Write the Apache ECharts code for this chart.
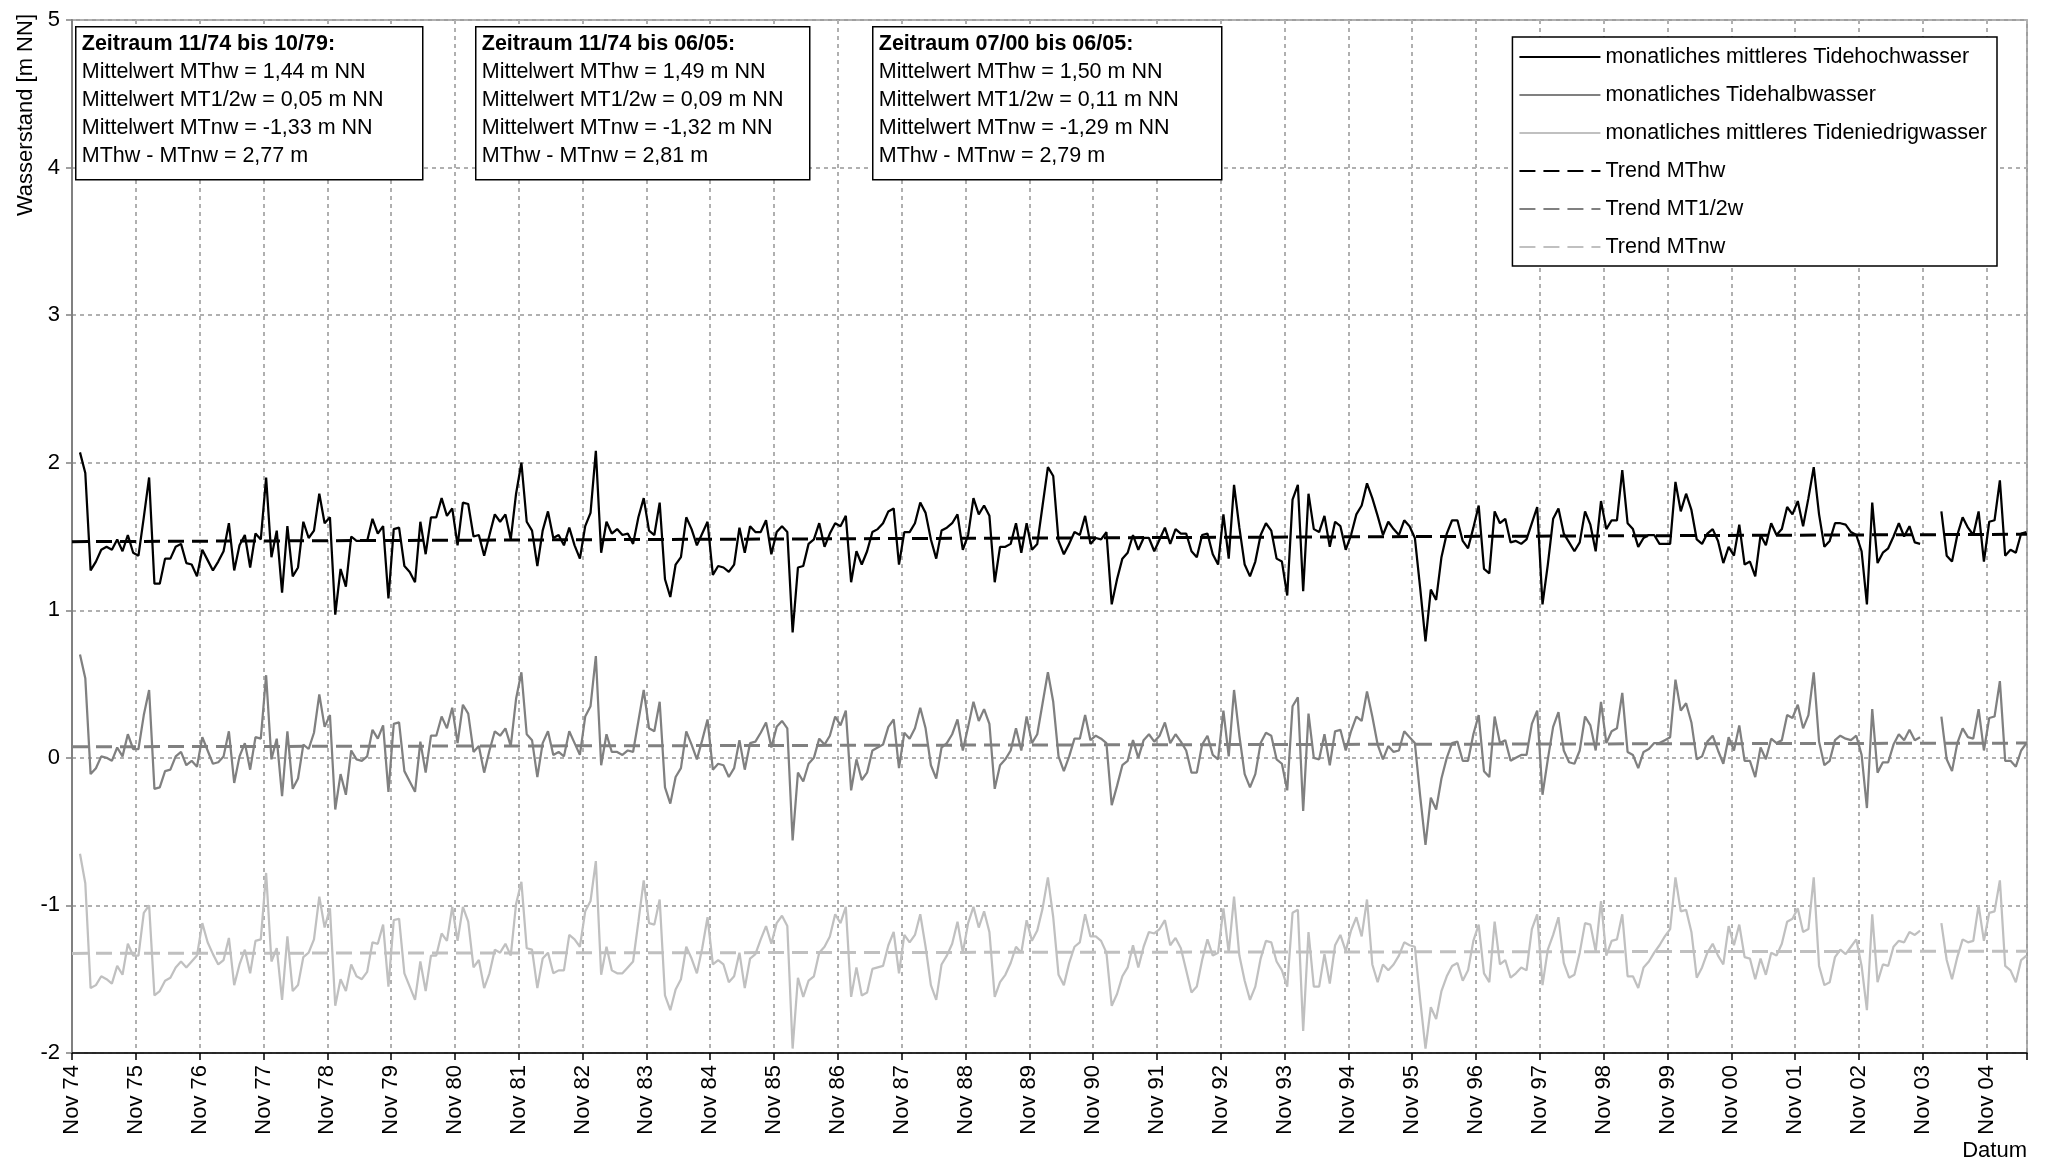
<!DOCTYPE html>
<html>
<head>
<meta charset="utf-8">
<title>Tidewasserstände</title>
<script src="https://cdn.jsdelivr.net/npm/echarts/dist/echarts.min.js"></script>
<style>
  html, body { margin: 0; padding: 0; background: #fff; }
  #chart { width: 2056px; height: 1165px; }
</style>
</head>
<body>
<div id="chart"></div>
<script>
// Monatswerte ab 12/74 bis 06/05 (null = keine Daten)
var mthw = [
  2.07,1.93,1.27,1.33,1.41,1.43,1.41,1.48,1.40,1.51,1.39,1.37,
  1.63,1.90,1.18,1.18,1.35,1.35,1.43,1.45,1.32,1.31,1.23,1.41,
  1.34,1.27,1.33,1.40,1.59,1.27,1.44,1.51,1.29,1.52,1.48,1.90,
  1.36,1.54,1.12,1.57,1.23,1.29,1.60,1.49,1.54,1.79,1.59,1.63,
  0.97,1.28,1.16,1.50,1.47,1.47,1.47,1.62,1.52,1.57,1.08,1.55,
  1.56,1.30,1.26,1.19,1.60,1.38,1.63,1.63,1.76,1.64,1.69,1.44,
  1.73,1.72,1.50,1.51,1.37,1.51,1.65,1.60,1.65,1.48,1.79,2.00,
  1.60,1.54,1.30,1.54,1.67,1.49,1.51,1.44,1.56,1.44,1.35,1.57,
  1.66,2.08,1.39,1.60,1.52,1.55,1.51,1.52,1.45,1.63,1.76,1.54,
  1.51,1.73,1.21,1.09,1.31,1.36,1.63,1.55,1.44,1.52,1.60,1.24,
  1.30,1.29,1.26,1.31,1.56,1.39,1.57,1.53,1.53,1.61,1.38,1.53,
  1.57,1.53,0.85,1.29,1.30,1.45,1.48,1.59,1.43,1.52,1.59,1.57,
  1.64,1.19,1.40,1.31,1.40,1.53,1.55,1.59,1.67,1.69,1.31,1.53,
  1.53,1.59,1.73,1.66,1.48,1.35,1.54,1.56,1.59,1.65,1.41,1.51,
  1.76,1.65,1.71,1.64,1.19,1.43,1.43,1.45,1.59,1.39,1.59,1.41,
  1.45,1.71,1.97,1.91,1.47,1.38,1.45,1.53,1.51,1.64,1.45,1.49,
  1.48,1.53,1.04,1.21,1.35,1.39,1.51,1.41,1.49,1.49,1.40,1.48,
  1.56,1.45,1.55,1.52,1.52,1.40,1.36,1.51,1.52,1.38,1.31,1.65,
  1.35,1.85,1.56,1.31,1.23,1.33,1.51,1.59,1.54,1.35,1.33,1.10,
  1.75,1.85,1.13,1.79,1.55,1.53,1.64,1.43,1.60,1.57,1.41,1.51,
  1.65,1.71,1.86,1.76,1.64,1.51,1.60,1.55,1.51,1.61,1.57,1.49,
  1.15,0.79,1.14,1.07,1.36,1.52,1.61,1.61,1.47,1.42,1.56,1.71,
  1.28,1.25,1.67,1.59,1.62,1.46,1.47,1.45,1.48,1.59,1.70,1.04,
  1.31,1.62,1.69,1.52,1.46,1.40,1.46,1.67,1.58,1.40,1.74,1.55,
  1.61,1.61,1.95,1.59,1.55,1.43,1.49,1.51,1.51,1.45,1.45,1.45,
  1.87,1.67,1.79,1.68,1.48,1.45,1.52,1.55,1.47,1.32,1.43,1.37,
  1.58,1.31,1.33,1.23,1.51,1.44,1.59,1.51,1.55,1.70,1.65,1.74,
  1.57,1.76,1.97,1.65,1.43,1.47,1.59,1.59,1.58,1.53,1.51,1.40,
  1.04,1.73,1.32,1.39,1.42,1.50,1.59,1.50,1.57,1.46,1.45,null,
  null,null,1.67,1.37,1.33,1.51,1.63,1.56,1.51,1.67,1.33,1.60,
  1.61,1.88,1.37,1.41,1.39,1.52,1.53
];
var mt12w = [
  0.70,0.54,-0.11,-0.07,0.01,0.00,-0.02,0.07,0.01,0.16,0.06,0.06,
  0.29,0.46,-0.21,-0.20,-0.09,-0.08,0.01,0.04,-0.05,-0.02,-0.06,0.14,
  0.05,-0.04,-0.03,0.01,0.18,-0.17,0.01,0.10,-0.08,0.14,0.13,0.56,
  -0.01,0.13,-0.26,0.18,-0.21,-0.14,0.09,0.06,0.17,0.43,0.21,0.29,
  -0.35,-0.11,-0.25,0.05,-0.01,-0.02,0.01,0.19,0.13,0.22,-0.23,0.23,
  0.24,-0.09,-0.16,-0.23,0.11,-0.10,0.15,0.15,0.28,0.20,0.34,0.10,
  0.36,0.30,0.04,0.08,-0.10,0.05,0.18,0.15,0.20,0.08,0.40,0.58,
  0.16,0.12,-0.13,0.10,0.18,0.02,0.04,0.01,0.18,0.10,0.02,0.28,
  0.35,0.69,-0.05,0.16,0.04,0.04,0.02,0.05,0.04,0.25,0.46,0.20,
  0.18,0.38,-0.20,-0.31,-0.13,-0.07,0.18,0.09,-0.01,0.12,0.26,-0.08,
  -0.04,-0.05,-0.13,-0.07,0.12,-0.08,0.10,0.11,0.17,0.24,0.07,0.21,
  0.25,0.20,-0.56,-0.10,-0.16,-0.04,0.00,0.13,0.09,0.15,0.28,0.22,
  0.32,-0.22,-0.01,-0.15,-0.10,0.05,0.07,0.09,0.21,0.26,-0.07,0.17,
  0.13,0.20,0.34,0.20,-0.05,-0.14,0.07,0.10,0.16,0.26,0.05,0.21,
  0.38,0.25,0.33,0.23,-0.21,-0.05,-0.01,0.05,0.20,0.05,0.28,0.10,
  0.16,0.37,0.58,0.38,0.01,-0.09,0.01,0.13,0.13,0.29,0.12,0.15,
  0.13,0.10,-0.32,-0.19,-0.05,-0.02,0.12,0.00,0.12,0.16,0.11,0.15,
  0.24,0.10,0.16,0.11,0.05,-0.10,-0.10,0.09,0.15,0.02,-0.01,0.32,
  0.01,0.46,0.15,-0.11,-0.20,-0.11,0.10,0.17,0.15,-0.01,-0.04,-0.22,
  0.35,0.41,-0.36,0.30,0.00,-0.01,0.16,-0.05,0.18,0.19,0.05,0.18,
  0.28,0.25,0.45,0.28,0.09,-0.01,0.08,0.04,0.05,0.18,0.14,0.10,
  -0.26,-0.59,-0.27,-0.35,-0.14,0.00,0.10,0.11,-0.02,-0.02,0.16,0.29,
  -0.09,-0.13,0.28,0.10,0.12,-0.02,0.00,0.02,0.02,0.23,0.32,-0.25,
  -0.01,0.21,0.31,0.05,-0.03,-0.04,0.05,0.28,0.22,0.05,0.38,0.10,
  0.18,0.20,0.44,0.04,0.02,-0.07,0.04,0.06,0.10,0.10,0.12,0.14,
  0.53,0.32,0.37,0.24,-0.01,0.01,0.11,0.15,0.05,-0.04,0.14,0.05,
  0.22,-0.02,-0.02,-0.13,0.07,-0.01,0.13,0.10,0.12,0.29,0.27,0.36,
  0.20,0.29,0.58,0.11,-0.05,-0.02,0.12,0.15,0.13,0.12,0.15,0.02,
  -0.34,0.33,-0.10,-0.03,-0.03,0.09,0.16,0.12,0.19,0.12,0.14,null,
  null,null,0.28,-0.01,-0.09,0.10,0.20,0.14,0.13,0.33,0.05,0.27,
  0.28,0.52,-0.02,-0.02,-0.06,0.05,0.10
];
var mtnw = [
  -0.65,-0.85,-1.56,-1.54,-1.48,-1.50,-1.53,-1.41,-1.47,-1.26,-1.34,-1.34,
  -1.05,-1.00,-1.61,-1.58,-1.51,-1.49,-1.42,-1.38,-1.42,-1.38,-1.34,-1.12,
  -1.25,-1.33,-1.40,-1.37,-1.22,-1.54,-1.40,-1.30,-1.46,-1.24,-1.23,-0.78,
  -1.38,-1.29,-1.64,-1.21,-1.58,-1.54,-1.35,-1.32,-1.23,-0.94,-1.15,-1.02,
  -1.68,-1.50,-1.58,-1.40,-1.48,-1.50,-1.45,-1.25,-1.26,-1.13,-1.55,-1.10,
  -1.09,-1.46,-1.55,-1.64,-1.38,-1.58,-1.34,-1.34,-1.19,-1.24,-1.01,-1.24,
  -1.01,-1.11,-1.42,-1.37,-1.56,-1.46,-1.30,-1.32,-1.26,-1.34,-0.99,-0.84,
  -1.29,-1.30,-1.56,-1.36,-1.32,-1.46,-1.44,-1.44,-1.20,-1.23,-1.28,-1.04,
  -0.97,-0.70,-1.47,-1.28,-1.44,-1.46,-1.46,-1.42,-1.38,-1.11,-0.83,-1.12,
  -1.13,-0.96,-1.61,-1.71,-1.57,-1.50,-1.28,-1.36,-1.46,-1.29,-1.08,-1.40,
  -1.37,-1.40,-1.52,-1.48,-1.32,-1.56,-1.36,-1.33,-1.23,-1.14,-1.26,-1.12,
  -1.07,-1.14,-1.97,-1.49,-1.62,-1.51,-1.48,-1.32,-1.28,-1.21,-1.06,-1.12,
  -1.01,-1.62,-1.42,-1.61,-1.59,-1.43,-1.42,-1.41,-1.27,-1.18,-1.46,-1.20,
  -1.25,-1.20,-1.06,-1.28,-1.54,-1.64,-1.40,-1.34,-1.26,-1.11,-1.32,-1.12,
  -1.01,-1.15,-1.04,-1.18,-1.62,-1.52,-1.47,-1.39,-1.28,-1.32,-1.10,-1.24,
  -1.17,-1.02,-0.81,-1.08,-1.47,-1.54,-1.39,-1.28,-1.25,-1.06,-1.21,-1.21,
  -1.24,-1.32,-1.68,-1.60,-1.48,-1.42,-1.27,-1.42,-1.28,-1.18,-1.19,-1.16,
  -1.10,-1.27,-1.22,-1.29,-1.44,-1.59,-1.55,-1.37,-1.23,-1.34,-1.32,-1.02,
  -1.32,-0.94,-1.34,-1.51,-1.64,-1.55,-1.36,-1.24,-1.25,-1.38,-1.44,-1.55,
  -1.05,-1.03,-1.85,-1.18,-1.55,-1.55,-1.33,-1.53,-1.27,-1.20,-1.31,-1.17,
  -1.08,-1.21,-0.96,-1.40,-1.52,-1.40,-1.44,-1.40,-1.34,-1.25,-1.27,-1.28,
  -1.64,-1.97,-1.69,-1.77,-1.58,-1.48,-1.41,-1.39,-1.51,-1.44,-1.24,-1.13,
  -1.46,-1.52,-1.11,-1.40,-1.37,-1.49,-1.46,-1.42,-1.44,-1.16,-1.06,-1.54,
  -1.30,-1.20,-1.08,-1.39,-1.49,-1.47,-1.32,-1.12,-1.13,-1.31,-0.97,-1.34,
  -1.24,-1.23,-1.06,-1.48,-1.48,-1.56,-1.42,-1.38,-1.32,-1.27,-1.21,-1.16,
  -0.81,-1.04,-1.03,-1.18,-1.49,-1.42,-1.32,-1.26,-1.34,-1.40,-1.14,-1.27,
  -1.13,-1.35,-1.36,-1.50,-1.36,-1.47,-1.32,-1.34,-1.26,-1.11,-1.09,-1.02,
  -1.18,-1.16,-0.81,-1.41,-1.54,-1.52,-1.35,-1.30,-1.33,-1.28,-1.23,-1.41,
  -1.71,-1.06,-1.52,-1.40,-1.41,-1.28,-1.24,-1.25,-1.18,-1.20,-1.17,null,
  null,null,-1.12,-1.37,-1.50,-1.35,-1.23,-1.25,-1.24,-1.00,-1.24,-1.05,
  -1.04,-0.83,-1.41,-1.44,-1.52,-1.37,-1.34
];

// Trendgeraden: Wert am Anfang und am Ende der Achse
var trendMThw = [1.465, 1.515];
var trendMT12w = [0.075, 0.10];
var trendMTnw = [-1.325, -1.31];

var xTickLabels = ['Nov 74','Nov 75','Nov 76','Nov 77','Nov 78','Nov 79','Nov 80','Nov 81',
  'Nov 82','Nov 83','Nov 84','Nov 85','Nov 86','Nov 87','Nov 88','Nov 89','Nov 90','Nov 91',
  'Nov 92','Nov 93','Nov 94','Nov 95','Nov 96','Nov 97','Nov 98','Nov 99','Nov 00','Nov 01',
  'Nov 02','Nov 03','Nov 04'];

var seriesNames = ['monatliches mittleres Tidehochwasser', 'monatliches Tidehalbwasser',
  'monatliches mittleres Tideniedrigwasser', 'Trend MThw', 'Trend MT1/2w', 'Trend MTnw'];

// x-Achse in Monaten ab 1. Nov 1974; erster Wert Dez 74, Monatsmitte
var firstMonth = 1;
var xMax = 367.6;
var font = 'Liberation Sans, Arial, sans-serif';

function points(values) {
  return values.map(function (v, j) {
    return [firstMonth + j + 0.5, v === null ? '-' : v];
  });
}
function trend(t) {
  return [[0, t[0]], [xMax, t[1]]];
}

var chart = echarts.init(document.getElementById('chart'));

var option = {
  animation: false,
  backgroundColor: '#fff',
  grid: {
    left: 72, right: 29, top: 20, bottom: 112,
    show: true, borderColor: '#808080', borderWidth: 1.5, backgroundColor: 'transparent'
  },
  legend: {
    data: seriesNames,
    orient: 'vertical',
    right: 59,
    top: 37,
    padding: [9, 10, 8, 6],
    itemGap: 16,
    itemWidth: 81,
    itemHeight: 14,
    borderColor: '#000',
    borderWidth: 1.5,
    backgroundColor: '#fff',
    itemStyle: { color: 'rgba(0,0,0,0)', borderWidth: 0, opacity: 0 },
    textStyle: { fontSize: 21.5, color: '#000', fontFamily: font },
    z: 20
  },
  xAxis: {
    type: 'value',
    min: 0,
    max: xMax,
    interval: 12,
    axisLine: { onZero: false, lineStyle: { color: '#000', width: 1.5 } },
    axisTick: { show: true, length: 7, lineStyle: { color: '#000', width: 1.5 } },
    axisLabel: {
      rotate: 90, fontSize: 22, color: '#000', fontFamily: font, margin: 12,
      formatter: function (v) { return v % 12 === 0 ? (xTickLabels[v / 12] || '') : ''; }
    },
    splitLine: { show: true, lineStyle: { type: [4, 4], color: '#b0b0b0', width: 2 } }
  },
  yAxis: {
    type: 'value',
    min: -2,
    max: 5,
    interval: 1,
    axisLine: { show: true, onZero: false, lineStyle: { color: '#808080', width: 2 } },
    axisTick: { show: true, length: 6, lineStyle: { color: '#808080', width: 1.5 } },
    axisLabel: { fontSize: 22, color: '#000', fontFamily: font, margin: 12 },
    splitLine: { show: true, lineStyle: { type: [4, 4], color: '#b0b0b0', width: 2 } }
  },
  graphic: [
    {
      type: 'text', x: 26, y: 14, rotation: Math.PI / 2, z: 100,
      style: { text: 'Wasserstand [m NN]', font: '22px ' + font, fill: '#000', align: 'right', verticalAlign: 'middle' }
    },
    {
      type: 'text', x: 2027, y: 1151, z: 100,
      style: { text: 'Datum', font: '22px ' + font, fill: '#000', align: 'right', verticalAlign: 'middle' }
    }
  ],
  series: [
    { name: seriesNames[0], type: 'line', data: points(mthw), symbol: 'none', connectNulls: false,
      lineStyle: { color: '#000', width: 2.25 }, itemStyle: { color: '#000' }, z: 3 },
    { name: seriesNames[1], type: 'line', data: points(mt12w), symbol: 'none', connectNulls: false,
      lineStyle: { color: '#808080', width: 2.25 }, itemStyle: { color: '#808080' }, z: 3 },
    { name: seriesNames[2], type: 'line', data: points(mtnw), symbol: 'none', connectNulls: false,
      lineStyle: { color: '#c0c0c0', width: 2.25 }, itemStyle: { color: '#c0c0c0' }, z: 3 },
    { name: seriesNames[3], type: 'line', data: trend(trendMThw), symbol: 'none',
      lineStyle: { color: '#000', width: 3, type: [16, 8] }, itemStyle: { color: '#000' }, z: 4 },
    { name: seriesNames[4], type: 'line', data: trend(trendMT12w), symbol: 'none',
      lineStyle: { color: '#808080', width: 3, type: [16, 8] }, itemStyle: { color: '#808080' }, z: 4 },
    { name: seriesNames[5], type: 'line', data: trend(trendMTnw), symbol: 'none',
      lineStyle: { color: '#c0c0c0', width: 3, type: [16, 8] }, itemStyle: { color: '#c0c0c0' }, z: 4 }
  ]
};

// Textkästen mit den Mittelwerten
var boxes = [
  { left: 75, width: 347, lines: ['Zeitraum 11/74 bis 10/79:', 'Mittelwert MThw = 1,44 m NN',
    'Mittelwert MT1/2w = 0,05 m NN', 'Mittelwert MTnw = -1,33 m NN', 'MThw - MTnw = 2,77 m'] },
  { left: 475, width: 334, lines: ['Zeitraum 11/74 bis 06/05:', 'Mittelwert MThw = 1,49 m NN',
    'Mittelwert MT1/2w = 0,09 m NN', 'Mittelwert MTnw = -1,32 m NN', 'MThw - MTnw = 2,81 m'] },
  { left: 872, width: 349, lines: ['Zeitraum 07/00 bis 06/05:', 'Mittelwert MThw = 1,50 m NN',
    'Mittelwert MT1/2w = 0,11 m NN', 'Mittelwert MTnw = -1,29 m NN', 'MThw - MTnw = 2,79 m'] }
];
boxes.forEach(function (b) {
  option.graphic.push({
    type: 'group', left: b.left, top: 26, z: 100,
    children: [
      { type: 'rect', z: 100, shape: { x: 0, y: 0, width: b.width, height: 153 },
        style: { fill: '#fff', stroke: '#000', lineWidth: 1.5 } },
      { type: 'text', z: 101, x: 6, y: 3,
        style: {
          text: '{b|' + b.lines[0] + '}\n' + b.lines.slice(1).join('\n'),
          font: '21.5px ' + font, fill: '#000', lineHeight: 28,
          rich: { b: { fontWeight: 'bold', fontSize: 21.5, fontFamily: font, lineHeight: 28 } }
        } }
    ]
  });
});

chart.setOption(option);
</script>
</body>
</html>
